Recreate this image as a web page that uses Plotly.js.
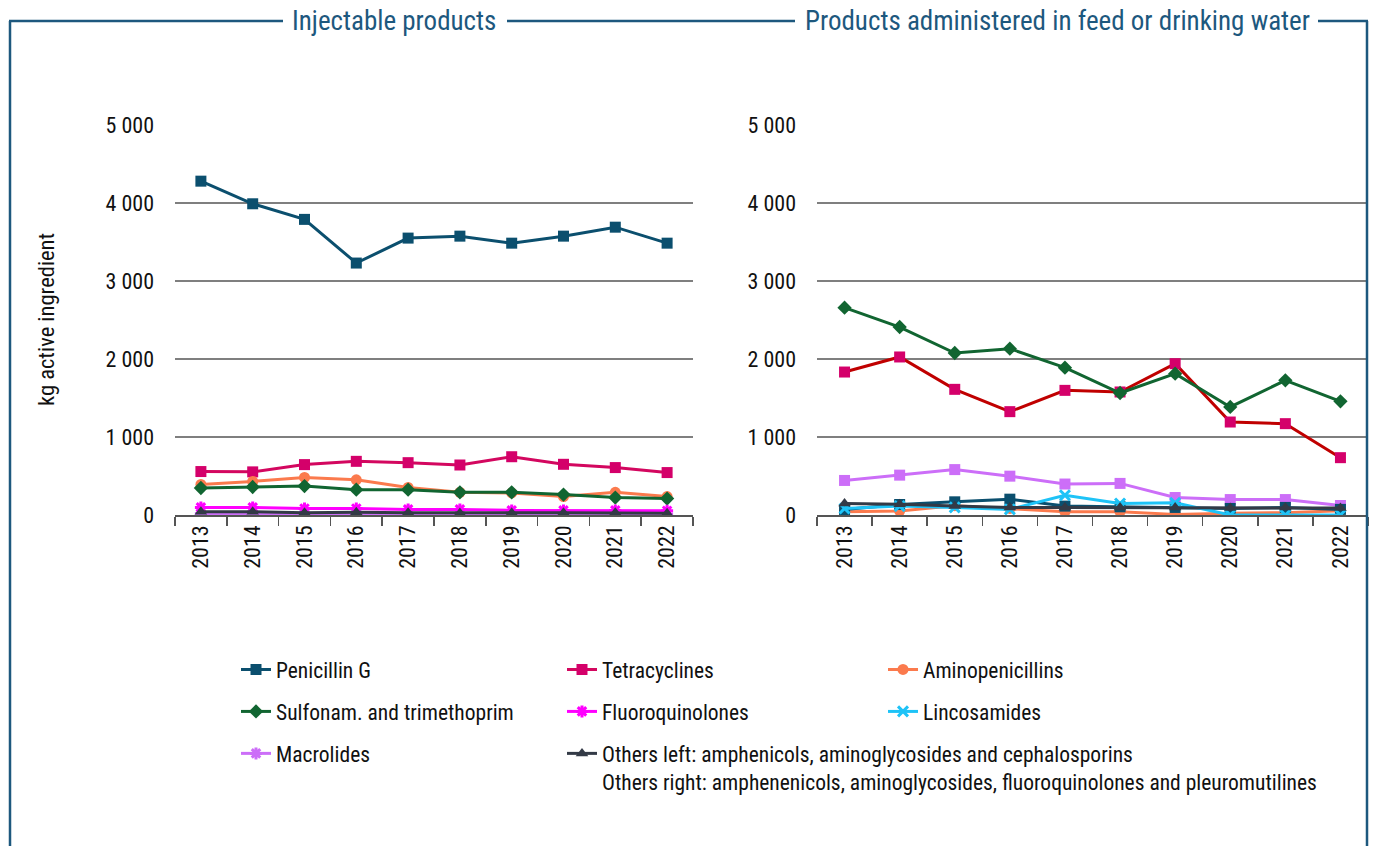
<!DOCTYPE html>
<html>
<head>
<meta charset="utf-8">
<script src="https://cdn.plot.ly/plotly-3.0.1.min.js"></script>
<style>html,body{margin:0;padding:0;background:#fff;}#chart{width:1380px;height:846px;}</style>
</head>
<body>
<div id="chart"></div>
<script>
// ---- Data (kg active ingredient) ----
const years = ['2013','2014','2015','2016','2017','2018','2019','2020','2021','2022'];

// Left: injectable products
const penG_L   = [4280, 3990, 3790, 3230, 3550, 3575, 3485, 3575, 3690, 3485];
const tetra_L  = [557, 553, 646, 688, 671, 641, 747, 650, 608, 544];
const amino_L  = [392, 430, 481, 451, 354, 291, 283, 236, 291, 236];
const sulfa_L  = [346, 359, 371, 325, 325, 291, 291, 262, 224, 211];
const fluoro_L = [97, 97, 84, 84, 72, 72, 59, 59, 59, 55];
const macro_L  = [20, 20, 18, 18, 18, 15, 15, 15, 15, 12];
const others_L = [42, 42, 30, 35, 30, 25, 28, 30, 30, 22];

// Right: feed or drinking water
const penG_R   = [70, 135, 169, 203, 114, 105, 97, 84, 97, 72];
const tetra_R  = [1833, 2026, 1611, 1325, 1598, 1577, 1940, 1192, 1171, 735];
const amino_R  = [42, 51, 120, 84, 42, 42, 8, 21, 30, 55];
const sulfa_R  = [2658, 2410, 2077, 2132, 1889, 1564, 1812, 1385, 1726, 1457];
const linco_R  = [84, 114, 97, 72, 253, 148, 156, 0, 0, 0];
const macro_R  = [443, 511, 582, 498, 397, 405, 224, 198, 198, 122];
const others_R = [148, 139, 114, 97, 97, 97, 97, 89, 97, 89];

const names = {
  penG: 'Penicillin G',
  tetra: 'Tetracyclines',
  amino: 'Aminopenicillins',
  sulfa: 'Sulfonam. and trimethoprim',
  fluoro: 'Fluoroquinolones',
  linco: 'Lincosamides',
  macro: 'Macrolides',
  others: 'Others left: amphenicols, aminoglycosides and cephalosporins<br>Others right: amphenenicols, aminoglycosides, fluoroquinolones and pleuromutilines'
};

const C = {
  penG: '#0b4f6e', tetraL: '#d3075f', tetraR: '#c00000', tetraM: '#d4006a',
  amino: '#fb7a4d', sulfa: '#116531', fluoro: '#ff00ff', linco: '#1ec3f7',
  macro: '#cc6ef8', others: '#333a46'
};

const FONT = '"Roboto Condensed", "Liberation Sans Narrow", "Arial Narrow", Roboto, sans-serif';

function tr(y, key, opt) {
  return Object.assign({
    x: years, y: y, type: 'scatter', mode: 'lines+markers', name: names[key],
    legendgroup: key, line: {width: 3}, marker: {size: 10}, showlegend: false
  }, opt);
}

const traces = [
  // left panel
  tr(penG_L, 'penG', {line:{color:C.penG,width:3}, marker:{symbol:'square',size:11,color:C.penG}, showlegend:true, legend:'legend'}),
  tr(tetra_L, 'tetra', {line:{color:C.tetraL,width:3}, marker:{symbol:'square',size:11,color:C.tetraM}, showlegend:true, legend:'legend2'}),
  tr(amino_L, 'amino', {line:{color:C.amino,width:3}, marker:{symbol:'circle',size:11,color:C.amino}, showlegend:true, legend:'legend3'}),
  tr(sulfa_L, 'sulfa', {line:{color:C.sulfa,width:3}, marker:{symbol:'diamond',size:11,color:C.sulfa}, showlegend:true, legend:'legend'}),
  tr(macro_L, 'macro', {line:{color:C.macro,width:3}, marker:{symbol:'asterisk-open',size:10,color:C.macro,line:{color:C.macro,width:3}}, showlegend:true, legend:'legend'}),
  tr(fluoro_L, 'fluoro', {line:{color:C.fluoro,width:3}, marker:{symbol:'asterisk-open',size:10,color:C.fluoro,line:{color:C.fluoro,width:3}}, showlegend:true, legend:'legend2'}),
  tr(others_L, 'others', {line:{color:C.others,width:3}, marker:{symbol:'triangle-up',size:11,color:C.others}, showlegend:true, legend:'legend2'}),
  // right panel
  tr(macro_R, 'macro', {xaxis:'x2', yaxis:'y2', line:{color:C.macro,width:3}, marker:{symbol:'square',size:11,color:C.macro}}),
  tr(tetra_R, 'tetra', {xaxis:'x2', yaxis:'y2', line:{color:C.tetraR,width:3}, marker:{symbol:'square',size:11,color:C.tetraM}}),
  tr(sulfa_R, 'sulfa', {xaxis:'x2', yaxis:'y2', line:{color:C.sulfa,width:3}, marker:{symbol:'diamond',size:11,color:C.sulfa}}),
  tr(amino_R, 'amino', {xaxis:'x2', yaxis:'y2', line:{color:C.amino,width:3}, marker:{symbol:'circle',size:11,color:C.amino}}),
  tr(penG_R, 'penG', {xaxis:'x2', yaxis:'y2', line:{color:C.penG,width:3}, marker:{symbol:'square',size:11,color:C.penG}}),
  tr(linco_R, 'linco', {xaxis:'x2', yaxis:'y2', line:{color:C.linco,width:3}, marker:{symbol:'x-thin-open',size:10,color:C.linco,line:{color:C.linco,width:3}}, showlegend:true, legend:'legend3'}),
  tr(others_R, 'others', {xaxis:'x2', yaxis:'y2', line:{color:C.others,width:3}, marker:{symbol:'triangle-up',size:11,color:C.others}})
];

const W = 1380, H = 846;
const px = v => v / W;
const py = v => 1 - v / H;

const xax = {
  type: 'category', range: [-0.5, 9.5], tickangle: -90, showgrid: false, zeroline: false,
  showline: true, linecolor: '#555', linewidth: 1.5, ticks: 'outside', tickson: 'boundaries',
  ticklen: 9, tickcolor: '#555', tickwidth: 1.5, tickfont: {size: 22, color: '#111', family: FONT},
  fixedrange: true
};
const yax = {
  range: [0, 5000], tickvals: [0, 1000, 2000, 3000, 4000, 5000], tickformat: ',d',
  showgrid: true, gridcolor: '#7f7f7f', gridwidth: 1.2, zeroline: false, showline: false,
  ticks: '', ticklabelstandoff: 20, tickfont: {size: 22, color: '#111', family: FONT},
  domain: [py(515), py(125)], fixedrange: true
};

const legBase = {
  orientation: 'v', xanchor: 'left', yanchor: 'top', bgcolor: 'rgba(0,0,0,0)',
  font: {size: 21.5, color: '#111', family: FONT}, traceorder: 'grouped', tracegroupgap: 11,
  itemwidth: 30, valign: 'top', y: py(649)
};

const border = '#1d587e';
const topY = py(21);
const layout = {
  width: W, height: H, margin: {l: 0, r: 0, t: 0, b: 0},
  paper_bgcolor: '#fff', plot_bgcolor: '#fff', separators: ', ',
  font: {family: FONT, color: '#111'},
  xaxis: Object.assign({}, xax, {domain: [px(175), px(693)], anchor: 'y'}),
  yaxis: Object.assign({}, yax, {anchor: 'x'}),
  xaxis2: Object.assign({}, xax, {domain: [px(817), px(1368)], anchor: 'y2'}),
  yaxis2: Object.assign({}, yax, {anchor: 'x2'}),
  legend: Object.assign({}, legBase, {x: px(236)}),
  legend2: Object.assign({}, legBase, {x: px(562)}),
  legend3: Object.assign({}, legBase, {x: px(883)}),
  shapes: [
    {type:'line', xref:'paper', yref:'paper', x0:px(10), x1:px(10), y0:topY, y1:0, line:{color:border, width:2.5}},
    {type:'line', xref:'paper', yref:'paper', x0:px(9), x1:px(283), y0:topY, y1:topY, line:{color:border, width:2.5}},
    {type:'line', xref:'paper', yref:'paper', x0:px(507), x1:px(795), y0:topY, y1:topY, line:{color:border, width:2.5}},
    {type:'line', xref:'paper', yref:'paper', x0:px(1318), x1:px(1368), y0:topY, y1:topY, line:{color:border, width:2.5}},
    {type:'line', xref:'paper', yref:'paper', x0:px(1367), x1:px(1367), y0:topY, y1:0, line:{color:border, width:2.5}}
  ],
  annotations: [
    {text:'Injectable products', xref:'paper', yref:'paper', x:px(394), y:topY, xanchor:'center', yanchor:'middle',
     showarrow:false, font:{size:27, color:'#1d587e', family:FONT}},
    {text:'Products administered in feed or drinking water', xref:'paper', yref:'paper', x:px(1057), y:topY, xanchor:'center', yanchor:'middle',
     showarrow:false, font:{size:27, color:'#1d587e', family:FONT}},
    {text:'kg active ingredient', xref:'paper', yref:'paper', x:px(46), y:py(320), xanchor:'center', yanchor:'middle',
     textangle:-90, showarrow:false, font:{size:22.5, color:'#111', family:FONT}}
  ]
};

Plotly.newPlot('chart', traces, layout, {displayModeBar: false, staticPlot: true});
</script>
</body>
</html>
